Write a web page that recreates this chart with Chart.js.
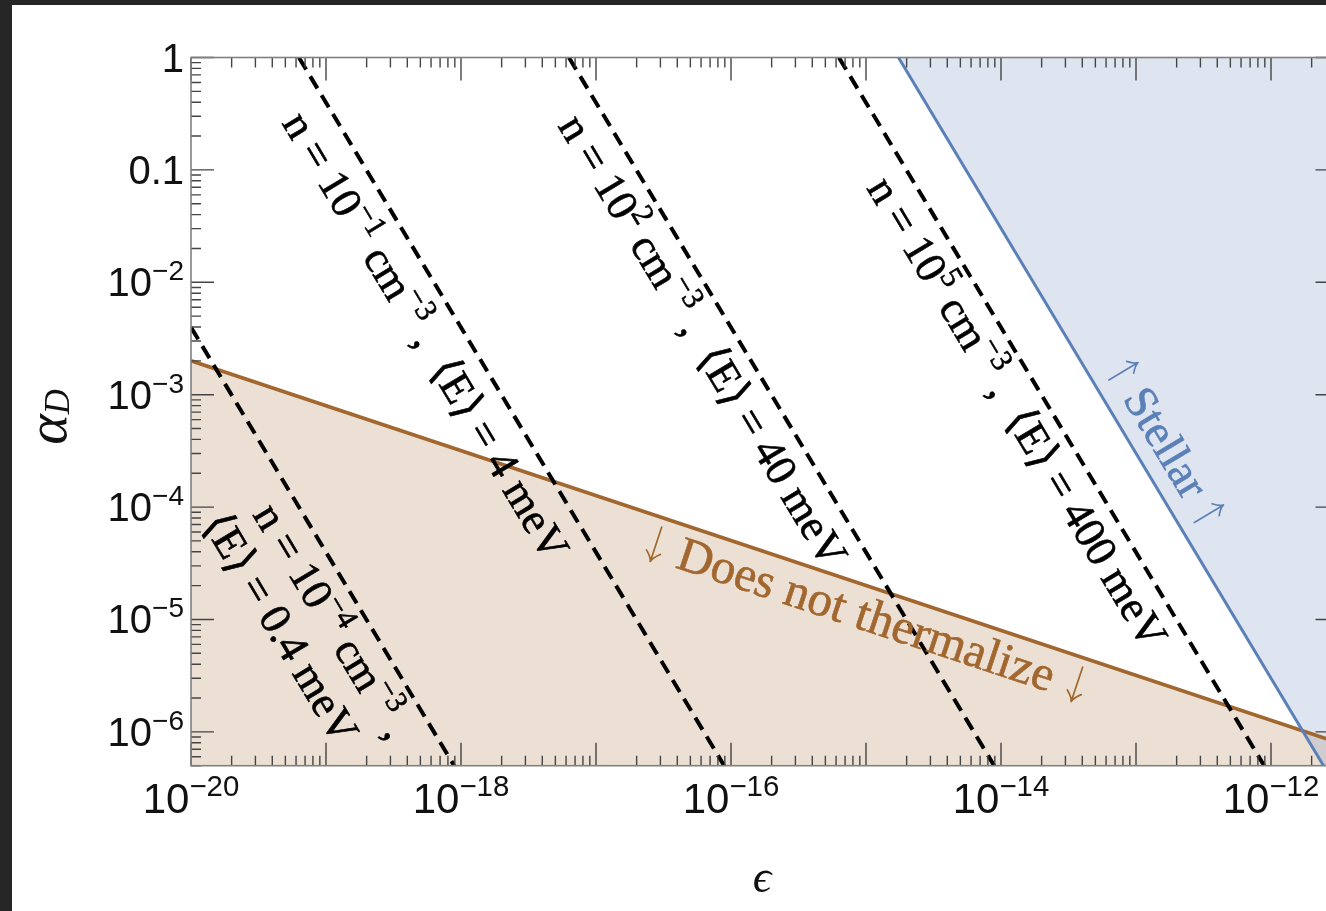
<!DOCTYPE html>
<html>
<head>
<meta charset="utf-8">
<script src="https://cdn.jsdelivr.net/npm/chart.js@4.4.1/dist/chart.umd.min.js"></script>
<style>
  html, body { margin: 0; padding: 0; background: #262626; overflow: hidden; width: 1326px; height: 911px; }
  #panel { position: absolute; left: 12px; top: 5px; width: 1340px; height: 906px; background: #ffffff; }
  canvas { display: block; }
</style>
</head>
<body>
<div id="panel"><canvas id="chart" width="1340" height="906"></canvas></div>
<script>
// ---- data: kinetic mixing epsilon vs dark coupling alpha_D ----
const epsRange = [1e-20, 3.1623e-12];
const alphaRange = [5e-7, 1];

// thermalization boundary (below: does not thermalize)
const thermalEps = [1e-20, 3.1623e-12];
const thermalAlpha = [2.0e-3, 8.0e-7];

// stellar cooling bound (excluded above/right)
const stellarEps = [1.74e-15, 3.1623e-12];
const stellarAlpha = [1, 3.0e-7];

// contours of constant density / mean energy
const n1e_4Eps = [1e-20, 8.9e-19];
const n1e_4Alpha = [3.98e-3, 5e-7];
const n1e_1Eps = [6.3e-20, 8.9e-17];
const n1e_1Alpha = [1, 5e-7];
const n1e2Eps = [6.3e-18, 8.9e-15];
const n1e2Alpha = [1, 5e-7];
const n1e5Eps = [6.3e-16, 8.9e-13];
const n1e5Alpha = [1, 5e-7];

// tick labels (decade exponents)
const epsLabelExps = [-20, -18, -16, -14, -12];
const alphaLabelExps = [0, -1, -2, -3, -4, -5, -6];

// label anchors [epsilon, alpha]
const labelN1e_4a = [1.1e-19, 9.6e-6];
const labelN1e_4b = [4.56e-20, 8.3e-6];
const labelN1e_1 = [5.4e-19, 3.3e-3];
const labelN1e2 = [6.1e-17, 3.0e-3];
const labelN1e5 = [1.3e-14, 6.9e-4];
const labelStellar = [1.64e-13, 3.7e-4];
const labelThermal = [1.0e-15, 1.08e-5];

const pts = (xs, ys) => xs.map((x, i) => ({ x: x, y: ys[i] }));

const BROWN = '#a2672f';
const BLUE = '#5b80b8';
const SANS = '"Liberation Sans", Arial, sans-serif';
const SERIF = '"Liberation Serif", "DejaVu Serif", serif';
const MINUS = '\u2212';

// text runs: [text, kind] with kind 'n' normal, 's' superscript, 'b' subscript,
// 'u' / 'd' a thin up / down arrow drawn as strokes
function segWidth(ctx, t, k, size, family, style, supScale) {
  if (k === 'u' || k === 'd') return size * 0.5;
  const fs = k === 'n' ? size : size * supScale;
  ctx.font = `${style} ${fs}px ${family}`;
  return ctx.measureText(t).width;
}
function drawArrow(ctx, cx, base, size, dir, color) {
  const top = base - size * 0.70, bot = base + size * 0.04;
  const tipY = dir === 'u' ? top : bot;
  const tailY = dir === 'u' ? bot : top;
  const h = dir === 'u' ? size * 0.2 : -size * 0.2;
  ctx.save();
  ctx.strokeStyle = color;
  ctx.lineWidth = Math.max(1.2, size * 0.035);
  ctx.lineCap = 'round';
  ctx.beginPath();
  ctx.moveTo(cx, tailY); ctx.lineTo(cx, tipY);
  ctx.moveTo(cx - size * 0.15, tipY + h);
  ctx.quadraticCurveTo(cx - size * 0.02, tipY + h * 0.45, cx, tipY);
  ctx.quadraticCurveTo(cx + size * 0.02, tipY + h * 0.45, cx + size * 0.15, tipY + h);
  ctx.stroke();
  ctx.restore();
}
function drawRich(ctx, segs, x, y, angle, size, family, color, opts) {
  opts = opts || {};
  const style = opts.style || '';
  const supScale = opts.supScale || 0.7;
  const subDrop = opts.subDrop !== undefined ? opts.subDrop : 0.2;
  ctx.save();
  ctx.translate(x, y);
  ctx.rotate(angle);
  ctx.fillStyle = color;
  ctx.strokeStyle = color;
  ctx.lineWidth = opts.weight || 0;
  ctx.lineJoin = 'round';
  ctx.textBaseline = 'alphabetic';
  ctx.textAlign = 'left';
  let w = 0;
  for (const [t, k] of segs) w += segWidth(ctx, t, k, size, family, style, supScale);
  let cx = opts.align === 'right' ? -w : (opts.align === 'left' ? 0 : -w / 2);
  const base = opts.baseline !== undefined ? opts.baseline : size * 0.3;
  for (const [t, k] of segs) {
    const sw = segWidth(ctx, t, k, size, family, style, supScale);
    if (k === 'u' || k === 'd') {
      drawArrow(ctx, cx + sw / 2, base, size, k, color);
    } else {
      const fs = k === 'n' ? size : size * supScale;
      ctx.font = `${style} ${fs}px ${family}`;
      let dy = 0;
      if (k === 's') dy = -size * 0.4;
      if (k === 'b') dy = size * subDrop;
      ctx.fillText(t, cx, base + dy);
      if (opts.weight) ctx.strokeText(t, cx, base + dy);
    }
    cx += sw;
  }
  ctx.restore();
}

function lineAngle(chart, xs, ys) {
  const sx = chart.scales.x, sy = chart.scales.y;
  const x1 = sx.getPixelForValue(xs[0]), y1 = sy.getPixelForValue(ys[0]);
  const x2 = sx.getPixelForValue(xs[1]), y2 = sy.getPixelForValue(ys[1]);
  return Math.atan2(y2 - y1, x2 - x1);
}

const annotations = {
  id: 'annotations',
  afterDatasetsDraw(chart) {
    const ctx = chart.ctx;
    const sx = chart.scales.x, sy = chart.scales.y;
    const at = (p) => [sx.getPixelForValue(p[0]), sy.getPixelForValue(p[1])];
    const aDash = lineAngle(chart, n1e_1Eps, n1e_1Alpha);
    const aStel = lineAngle(chart, stellarEps, stellarAlpha);
    const aTh = lineAngle(chart, thermalEps, thermalAlpha);
    const fs = 44;
    const o = { weight: 0.6 };
    ctx.save();
    ctx.beginPath();
    ctx.rect(chart.chartArea.left, chart.chartArea.top, chart.chartArea.width, chart.chartArea.height);
    ctx.clip();
    let p;
    p = at(labelN1e_1);
    drawRich(ctx, [['n = 10', 'n'], [MINUS + '1', 's'], [' cm', 'n'], [MINUS + '3', 's'], [' ,  \u27E8E\u27E9 = 4 meV', 'n']], p[0], p[1], aDash, fs, SERIF, '#000', o);
    p = at(labelN1e2);
    drawRich(ctx, [['n = 10', 'n'], ['2', 's'], [' cm', 'n'], [MINUS + '3', 's'], [' ,  \u27E8E\u27E9 = 40 meV', 'n']], p[0], p[1], aDash, fs, SERIF, '#000', o);
    p = at(labelN1e5);
    drawRich(ctx, [['n = 10', 'n'], ['5', 's'], [' cm', 'n'], [MINUS + '3', 's'], [' ,  \u27E8E\u27E9 = 400 meV', 'n']], p[0], p[1], aDash, fs, SERIF, '#000', o);
    p = at(labelN1e_4a);
    drawRich(ctx, [['n = 10', 'n'], [MINUS + '4', 's'], [' cm', 'n'], [MINUS + '3', 's'], [' ,', 'n']], p[0], p[1], aDash, fs, SERIF, '#000', o);
    p = at(labelN1e_4b);
    drawRich(ctx, [['\u27E8E\u27E9 = 0.4 meV', 'n']], p[0], p[1], aDash, fs, SERIF, '#000', o);
    p = at(labelStellar);
    drawRich(ctx, [['', 'u'], [' Stellar ', 'n'], ['', 'u']], p[0], p[1], aStel, 46, SERIF, BLUE, o);
    p = at(labelThermal);
    drawRich(ctx, [['', 'd'], [' Does not thermalize ', 'n'], ['', 'd']], p[0], p[1], aTh, 49, SERIF, BROWN, o);
    ctx.restore();
  }
};

// frame, inward log ticks on all four sides, tick labels and axis titles
const frameAxes = {
  id: 'frameAxes',
  afterDraw(chart) {
    const ctx = chart.ctx;
    const a = chart.chartArea;
    const sx = chart.scales.x, sy = chart.scales.y;
    ctx.save();
    ctx.lineCap = 'butt';
    ctx.strokeStyle = '#444';
    ctx.lineWidth = 1.4;
    const MAJ = 23, MIN = 10;
    const xLo = Math.floor(Math.log10(sx.min)), xHi = Math.ceil(Math.log10(sx.max));
    for (let k = xLo; k <= xHi; k++) {
      for (let m = 1; m <= 9; m++) {
        const v = m * Math.pow(10, k);
        if (v < sx.min * 0.999 || v > sx.max * 1.001) continue;
        const px = sx.getPixelForValue(v);
        const len = m === 1 ? MAJ : MIN;
        ctx.beginPath();
        ctx.moveTo(px, a.bottom); ctx.lineTo(px, a.bottom - len);
        ctx.moveTo(px, a.top); ctx.lineTo(px, a.top + len);
        ctx.stroke();
      }
    }
    const yLo = Math.floor(Math.log10(sy.min)), yHi = Math.ceil(Math.log10(sy.max));
    for (let k = yLo; k <= yHi; k++) {
      for (let m = 1; m <= 9; m++) {
        const v = m * Math.pow(10, k);
        if (v < sy.min * 0.999 || v > sy.max * 1.001) continue;
        const py = sy.getPixelForValue(v);
        const len = m === 1 ? MAJ : MIN;
        ctx.beginPath();
        ctx.moveTo(a.left, py); ctx.lineTo(a.left + len, py);
        ctx.moveTo(a.right, py); ctx.lineTo(a.right - len, py);
        ctx.stroke();
      }
    }
    ctx.strokeStyle = '#808080';
    ctx.lineWidth = 1.6;
    ctx.strokeRect(a.left, a.top, a.right - a.left, a.bottom - a.top);

    // tick labels
    for (const e of epsLabelExps) {
      const px = sx.getPixelForValue(Math.pow(10, e));
      drawRich(ctx, [['10', 'n'], [MINUS + String(-e), 's']], px, a.bottom + 47, 0, 42, SANS, '#111', { baseline: 0, supScale: 0.7 });
    }
    for (const e of alphaLabelExps) {
      const py = sy.getPixelForValue(Math.pow(10, e));
      let segs;
      if (e === 0) segs = [['1', 'n']];
      else if (e === -1) segs = [['0.1', 'n']];
      else segs = [['10', 'n'], [MINUS + String(-e), 's']];
      drawRich(ctx, segs, a.left - 7, py + 14, 0, 40, SANS, '#111', { baseline: 0, align: 'right', supScale: 0.7 });
    }

    // axis titles
    drawRich(ctx, [['\u03B1', 'n'], ['D', 'b']], 54, 412, -Math.PI / 2, 58, SERIF, '#111', { baseline: 0, style: 'italic', supScale: 0.6, subDrop: 0.06 });
    drawRich(ctx, [['\u03F5', 'n']], 750, 887, 0, 46, SERIF, '#111', { baseline: 0, style: 'italic' });
    ctx.restore();
  }
};

const ctx = document.getElementById('chart').getContext('2d');
new Chart(ctx, {
  type: 'line',
  data: {
    datasets: [
      { label: 'Does not thermalize', data: pts(thermalEps, thermalAlpha), borderColor: BROWN, borderWidth: 3.8,
        backgroundColor: 'rgba(160,100,45,0.2)', fill: 'start', order: 6 },
      { label: 'Stellar', data: pts(stellarEps, stellarAlpha), borderColor: BLUE, borderWidth: 3,
        backgroundColor: 'rgba(90,125,180,0.2)', fill: 'end', order: 5 },
      { label: 'n = 1e-4', data: pts(n1e_4Eps, n1e_4Alpha), borderColor: '#000', borderWidth: 4, borderDash: [14, 8], fill: false, order: 1 },
      { label: 'n = 1e-1', data: pts(n1e_1Eps, n1e_1Alpha), borderColor: '#000', borderWidth: 4, borderDash: [14, 8], fill: false, order: 1 },
      { label: 'n = 1e2', data: pts(n1e2Eps, n1e2Alpha), borderColor: '#000', borderWidth: 4, borderDash: [14, 8], fill: false, order: 1 },
      { label: 'n = 1e5', data: pts(n1e5Eps, n1e5Alpha), borderColor: '#000', borderWidth: 4, borderDash: [14, 8], fill: false, order: 1 }
    ]
  },
  options: {
    responsive: false,
    animation: false,
    devicePixelRatio: 1,
    layout: { padding: { left: 179, top: 52.5, right: 13.5, bottom: 145.3 } },
    elements: { point: { radius: 0, hoverRadius: 0 }, line: { tension: 0 } },
    scales: {
      x: { type: 'logarithmic', min: epsRange[0], max: epsRange[1], display: false },
      y: { type: 'logarithmic', min: alphaRange[0], max: alphaRange[1], display: false }
    },
    plugins: {
      legend: { display: false },
      tooltip: { enabled: false },
      filler: { drawTime: 'beforeDatasetsDraw' }
    }
  },
  plugins: [annotations, frameAxes]
});
</script>
</body>
</html>
